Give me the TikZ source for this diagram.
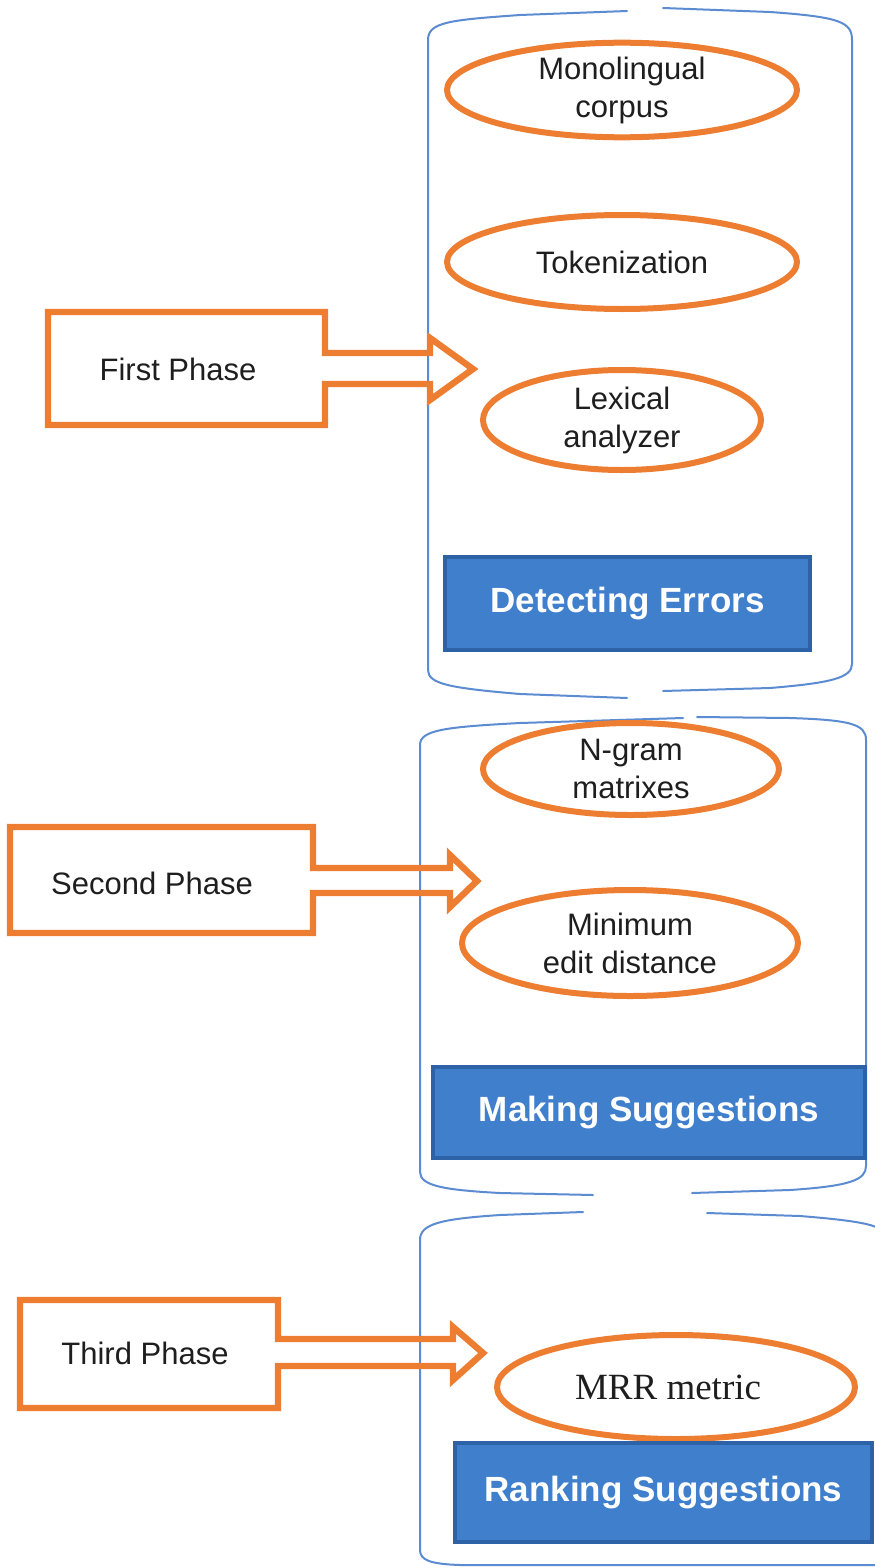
\documentclass[tikz,border=0pt]{standalone}
\usepackage{fontspec}
\setmainfont{Liberation Sans}
\newfontfamily\serifmrr{Liberation Serif}
\usetikzlibrary{shapes.geometric}
\definecolor{orng}{HTML}{ED7D31}
\definecolor{cblue}{HTML}{5B8BD0}
\definecolor{bfill}{HTML}{3F7FCC}
\definecolor{bedge}{HTML}{2D62A6}
\definecolor{txt}{HTML}{1E1E1E}
\begin{document}
\begin{tikzpicture}[x=0.5pt,y=-0.5pt,
  oval/.style={ellipse, draw=orng, line width=3pt, inner sep=0pt, text=txt, align=center, font=\fontsize{15.5}{19}\selectfont},
  bluebox/.style={draw=bedge, fill=bfill, line width=1.6pt, text=white, font=\bfseries\fontsize{17.5}{20}\selectfont, inner sep=0pt},
  phasetext/.style={text=txt, font=\fontsize{15.5}{19}\selectfont, inner sep=0pt},
  callout/.style={draw=orng, line width=3.2pt, line join=miter},
  container/.style={draw=cblue, line width=1pt, line cap=round}]
\useasboundingbox (0,0) rectangle (874,1568);

% containers
\draw[container] (627,11) -- (520,15) .. controls (450,20) and (428,22) .. (428,40) -- (428,670)
  .. controls (428,684) and (450,688) .. (520,694) -- (627,698);
\draw[container] (663,8) -- (770,12) .. controls (840,17) and (852,22) .. (852,40) -- (852,664)
  .. controls (852,678) and (830,683) .. (770,688) -- (663,691);

\draw[container] (683,718) -- (520,723) .. controls (445,727) and (420,730) .. (420,745) -- (420,1172)
  .. controls (420,1186) and (445,1190) .. (500,1193) -- (593,1195);
\draw[container] (697,717) -- (790,718) .. controls (850,720) and (866,724) .. (866,740) -- (866,1166)
  .. controls (866,1180) and (850,1186) .. (790,1190) -- (692,1193);

\draw[container] (583,1212) -- (500,1215) .. controls (440,1219) and (420,1224) .. (420,1240) -- (420,1550)
  .. controls (420,1560) and (430,1564) .. (460,1565) -- (880,1565);
\draw[container] (707,1213) -- (800,1216) .. controls (850,1220) and (876,1224) .. (880,1230);

% ellipses
\node[oval, minimum width=175pt, minimum height=46pt] (e1) at (622,90) {Monolingual\\corpus};
\node[oval, minimum width=175pt, minimum height=47pt] (e2) at (622,262) {Tokenization};
\node[oval, minimum width=139pt, minimum height=50pt] (e3) at (622,420) {Lexical\\analyzer};
\node[oval, minimum width=148pt, minimum height=46pt] (e4) at (631,769) {N-gram\\matrixes};
\node[oval, minimum width=168pt, minimum height=53pt] (e5) at (630,943) {Minimum\\edit distance};
\node[oval, minimum width=179pt, minimum height=52pt, font=\serifmrr\fontsize{18.5}{20}\selectfont] (e6) at (676,1387) {MRR metric\hspace{8pt}};

% blue boxes
\node[bluebox, minimum width=182.5pt, minimum height=46.5pt] (b1) at (627.5,603.5) {Detecting Errors};
\node[bluebox, minimum width=216pt, minimum height=45.5pt] (b2) at (649,1112.5) {Making Suggestions};
\node[bluebox, minimum width=208.5pt, minimum height=49.5pt] (b3) at (663.5,1492.5) {Ranking Suggestions};

% phase callouts
\draw[callout] (48,312) -- (325,312) -- (325,353) -- (430,353) -- (430,338) -- (473,369)
  -- (430,400) -- (430,384) -- (325,384) -- (325,425) -- (48,425) -- cycle;
\node[phasetext] (p1) at (178,369) {First Phase};

\draw[callout] (10,827) -- (313,827) -- (313,868) -- (450,868) -- (450,855) -- (477,881)
  -- (450,907) -- (450,893) -- (313,893) -- (313,933) -- (10,933) -- cycle;
\node[phasetext] (p2) at (152,883) {Second Phase};

\draw[callout] (20,1300) -- (278,1300) -- (278,1339) -- (453,1339) -- (453,1327) -- (483,1353)
  -- (453,1380) -- (453,1366) -- (278,1366) -- (278,1408) -- (20,1408) -- cycle;
\node[phasetext] (p3) at (145,1353) {Third Phase};
\end{tikzpicture}
\end{document}
